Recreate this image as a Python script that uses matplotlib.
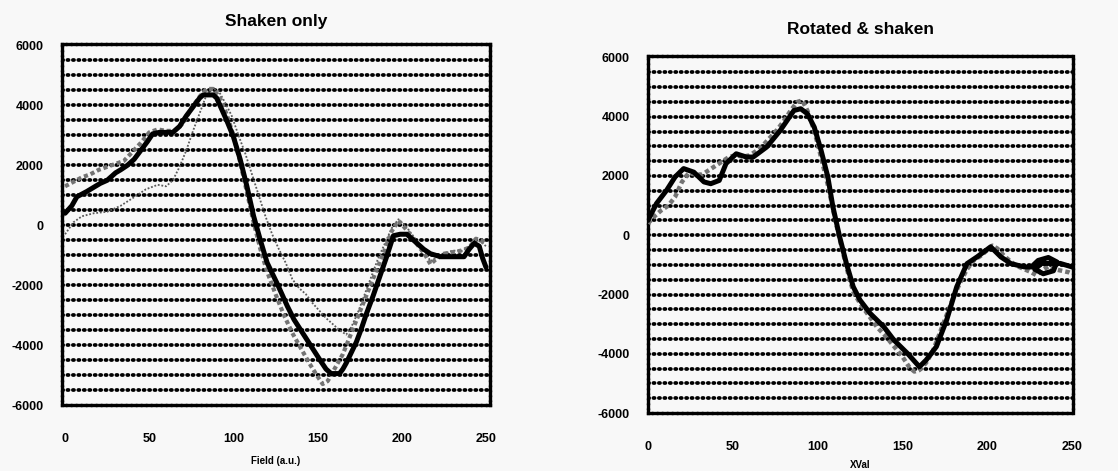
import matplotlib
matplotlib.use("Agg")
import matplotlib.pyplot as plt
import numpy as np

plt.rcParams['font.family'] = ['Liberation Sans', 'DejaVu Sans']
plt.rcParams['axes.unicode_minus'] = False

# ---------------- data: left panel "Shaken only" ----------------
left_solid_x = [0, 4, 7, 13, 18, 21, 25, 30, 33, 37, 41, 45, 49, 52, 56, 60, 64, 68, 72, 76,
                80, 82, 85, 88, 90, 92, 96, 100, 104, 108, 112, 116, 120, 126, 132, 136, 140,
                144, 148, 152, 155, 158, 161, 163, 165, 167, 170, 173, 176, 179, 183, 187, 191,
                195, 199, 203, 206, 209, 213, 217, 220, 223, 228, 233, 237, 240, 243, 246, 248, 250]
left_solid_y = [400, 650, 950, 1130, 1300, 1400, 1500, 1750, 1850, 2000, 2200, 2500, 2800, 3050,
                3100, 3100, 3100, 3300, 3650, 3950, 4250, 4350, 4350, 4350, 4250, 4000, 3500, 2950,
                2200, 1300, 300, -500, -1250, -1950, -2700, -3150, -3500, -3850, -4200, -4550,
                -4800, -4950, -4950, -4950, -4800, -4600, -4250, -3900, -3450, -2950, -2350, -1700,
                -1050, -350, -300, -300, -450, -600, -800, -950, -1000, -1050, -1050, -1050, -1050,
                -800, -600, -700, -1100, -1400]

left_fit_x = [0, 5, 10, 15, 20, 25, 30, 35, 40, 45, 50, 55, 60, 65, 70, 75, 80, 84, 88, 92, 96,
              100, 104, 108, 112, 116, 120, 125, 130, 135, 140, 145, 150, 153, 156, 160, 165, 170,
              175, 180, 185, 190, 194, 198, 202, 206, 210, 214, 217, 220, 225, 230, 235, 240, 244,
              247, 250]
left_fit_y = [1300, 1450, 1600, 1700, 1850, 1950, 2050, 2150, 2450, 2750, 3100, 3200, 3150, 3150,
              3400, 3900, 4300, 4550, 4550, 4250, 3700, 3000, 2100, 1100, 100, -800, -1550, -2300,
              -3000, -3600, -4100, -4600, -5050, -5300, -5200, -4800, -4300, -3600, -2900, -2200,
              -1500, -800, -200, 150, -100, -400, -700, -1000, -1300, -1150, -950, -900, -850, -750,
              -450, -500, -650]

left_thin_x = [0, 5, 10, 17, 25, 33, 40, 48, 55, 60, 64, 68, 72, 76, 80, 84, 88, 91, 95, 99, 103,
               107, 111, 115, 119, 123, 127, 131, 135, 139, 143, 147, 151, 155, 159, 163, 167, 170,
               174, 178, 182, 186, 190, 194, 198, 202, 206, 210, 214, 217, 220, 225, 230, 236, 240,
               244, 247, 250]
left_thin_y = [-300, 100, 300, 400, 450, 650, 900, 1200, 1350, 1300, 1500, 1950, 2500, 3150, 3750,
               4350, 4550, 4500, 4100, 3650, 3000, 2400, 1700, 1000, 300, -300, -800, -1250, -1800,
               -2100, -2300, -2600, -2850, -3100, -3300, -3500, -3650, -3400, -2900, -2300, -1700,
               -1100, -600, -100, 200, 0, -300, -600, -900, -1200, -1100, -950, -850, -850, -700,
               -500, -550, -700]

# ---------------- data: right panel "Rotated & shaken" ----------------
right_solid_x = [0, 1, 5, 11, 16, 21, 27, 33, 37, 42, 46, 52, 58, 62, 70, 78, 86, 90, 94, 98, 102,
                 106, 109, 113, 117, 121, 125, 131, 139, 145, 153, 160, 164, 170, 176, 182, 188,
                 194, 202, 208, 214, 222, 226, 230, 236, 241, 239, 233, 228, 232, 243, 250]
right_solid_y = [500, 620, 1070, 1520, 1970, 2250, 2130, 1800, 1740, 1850, 2420, 2750, 2640, 2640,
                 2980, 3540, 4210, 4270, 4100, 3650, 2870, 1970, 960, -60, -960, -1740, -2190,
                 -2640, -3090, -3540, -3990, -4440, -4210, -3760, -2870, -1740, -960, -730, -390,
                 -730, -960, -1070, -1070, -850, -750, -900, -1200, -1300, -1150, -950, -950, -1070]

right_fit_x = [0, 4, 8, 12, 16, 20, 24, 28, 32, 36, 40, 44, 48, 52, 56, 60, 64, 68, 72, 76, 80, 84,
               88, 91, 94, 97, 100, 103, 106, 109, 112, 115, 118, 121, 125, 130, 135, 140, 145, 150,
               154, 157, 160, 164, 168, 172, 176, 180, 184, 188, 192, 196, 200, 203, 206, 210, 214,
               218, 222, 226, 229, 232, 236, 240, 244, 248, 250]
right_fit_y = [400, 650, 850, 1000, 1300, 1800, 2100, 2050, 2050, 2200, 2350, 2500, 2650, 2700, 2650,
               2700, 2850, 3050, 3300, 3550, 3850, 4200, 4500, 4550, 4200, 3700, 3100, 2400, 1700,
               900, 100, -600, -1300, -1900, -2300, -2700, -3100, -3400, -3750, -4100, -4450, -4600,
               -4550, -4300, -3900, -3300, -2700, -2100, -1600, -1150, -850, -700, -500, -350, -450,
               -700, -900, -1050, -1150, -1250, -1350, -1200, -1050, -1150, -1200, -1250, -1300]

y_ticks = [-6000, -4000, -2000, 0, 2000, 4000, 6000]
x_ticks = [0, 50, 100, 150, 200, 250]
grid_levels = list(range(-5500, 6000, 500))

fig = plt.figure(figsize=(11.18, 4.71), dpi=100)
fig.patch.set_facecolor('#f8f8f8')

ax1 = fig.add_axes([0.0555, 0.1401, 0.3828, 0.7665])
ax2 = fig.add_axes([0.5796, 0.1231, 0.3801, 0.758])

dot_style = (0, (0.3, 1.15))


def style(ax, title, xlabel, xlim, title_pad, labelpad):
    ax.set_facecolor('#f8f8f8')
    for g in grid_levels:
        ax.axhline(g, color='black', lw=2.7, ls=dot_style, dash_capstyle='round', zorder=1)
    ax.set_xlim(*xlim)
    ax.set_ylim(-6000, 6050)
    ax.set_xticks(x_ticks)
    ax.set_yticks(y_ticks)
    ax.set_xticklabels([str(v) for v in x_ticks], fontsize=9, fontweight='bold')
    ax.set_yticklabels([str(v) for v in y_ticks], fontsize=9, fontweight='bold')
    ax.tick_params(axis='x', length=0, pad=20)
    ax.tick_params(axis='y', length=0, pad=13)
    for s in ax.spines.values():
        s.set_linewidth(2.4)
        s.set_linestyle((0, (1, 0.5)))
        s.set_color('black')
    ax.set_title(title, fontsize=12.5, fontweight='bold', pad=title_pad)
    ax.set_xlabel(xlabel, fontsize=7, fontweight='bold', labelpad=labelpad)


style(ax1, 'Shaken only', 'Field (a.u.)', (-1.8, 252.4), 13, 8)
style(ax2, 'Rotated & shaken', 'XVal', (0, 250.5), 16, 5)

# left panel lines
ax1.plot(left_thin_x, left_thin_y, color='0.35', lw=1.3, ls=(0, (1, 1)), zorder=3)
ax1.plot(left_fit_x, left_fit_y, color='0.45', lw=3.0, ls=(0, (1, 0.7)), zorder=3)
ax1.plot(left_solid_x, left_solid_y, color='black', lw=3.6, zorder=4,
         solid_joinstyle='round', solid_capstyle='round')

# right panel lines
ax2.plot(right_fit_x, right_fit_y, color='0.45', lw=3.2, ls=(0, (1, 0.7)), zorder=3)
ax2.plot(right_solid_x, right_solid_y, color='black', lw=3.6, zorder=4,
         solid_joinstyle='round', solid_capstyle='round')

fig.savefig('out.png', dpi=100, facecolor=fig.get_facecolor())
